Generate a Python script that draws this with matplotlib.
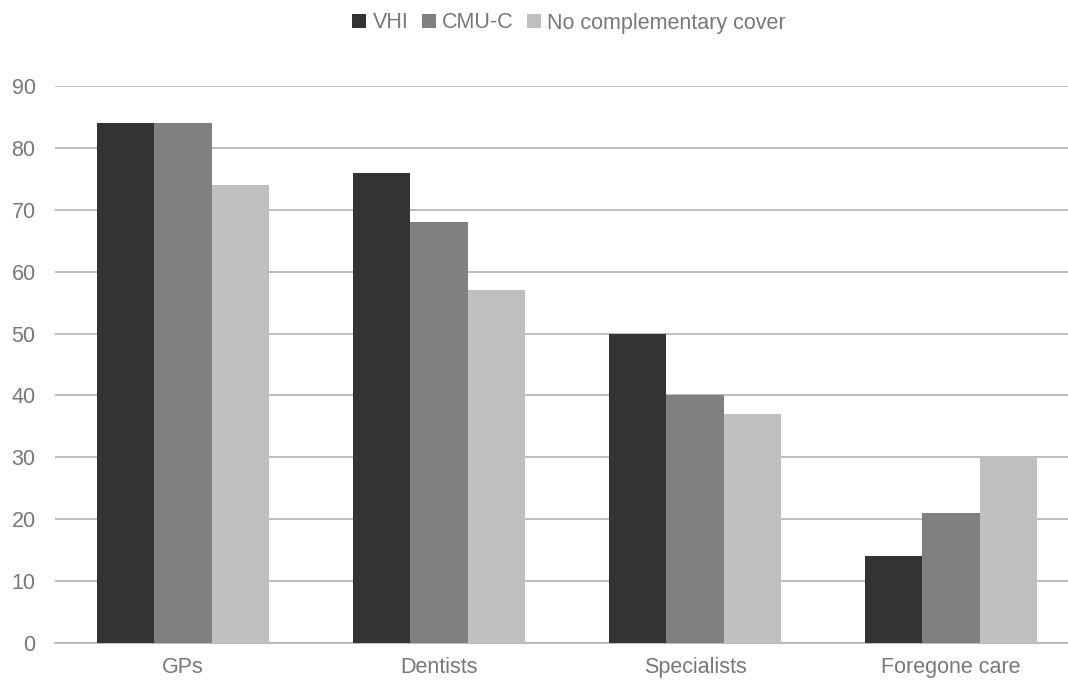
import numpy as np
import matplotlib
matplotlib.use('Agg')
import matplotlib.pyplot as plt

plt.rcParams['font.family'] = ['Liberation Sans', 'DejaVu Sans']

categories = ['GPs', 'Dentists', 'Specialists', 'Foregone care']
series_names = ['VHI', 'CMU-C', 'No complementary cover']
vhi = [84, 76, 50, 14]
cmu_c = [84, 68, 40, 21]
no_cover = [74, 57, 37, 30]
colors = ['#333333', '#808080', '#bfbfbf']
text_col = '#787878'
grid_col = '#ababab'

fig = plt.figure(figsize=(10.68, 6.88), dpi=100)
# axes runs a little past the right edge of the figure
ax = fig.add_axes([55 / 1068, 45 / 688, 1024 / 1068, 557 / 688])

x = np.arange(len(categories))
w = 0.224
for i, (vals, name) in enumerate(zip([vhi, cmu_c, no_cover], series_names)):
    ax.bar(x + (i - 1) * w, vals, width=w, color=colors[i], label=name, zorder=3)

ax.set_xlim(-0.5, len(categories) - 0.5)
ax.set_ylim(0, 90)
ax.set_yticks(range(0, 91, 10))
ax.set_xticks(x)
ax.set_xticklabels(categories)

ax.yaxis.grid(True, color=grid_col, linewidth=1.1, zorder=0)
for s in ['top', 'right', 'left']:
    ax.spines[s].set_visible(False)
ax.spines['bottom'].set_color(grid_col)
ax.spines['bottom'].set_linewidth(1.1)

ax.tick_params(axis='both', length=0, labelsize=15.5, labelcolor=text_col)
ax.tick_params(axis='y', pad=14)
ax.tick_params(axis='x', pad=10)

leg = ax.legend(loc='center', bbox_to_anchor=(514 / 1024, (688 - 23 - 45) / 557),
                ncol=3, frameon=False, fontsize=15.5, handlelength=0.65, handleheight=0.65,
                handletextpad=0.3, columnspacing=0.6, labelcolor=text_col)

fig.savefig('out.png', dpi=100)
